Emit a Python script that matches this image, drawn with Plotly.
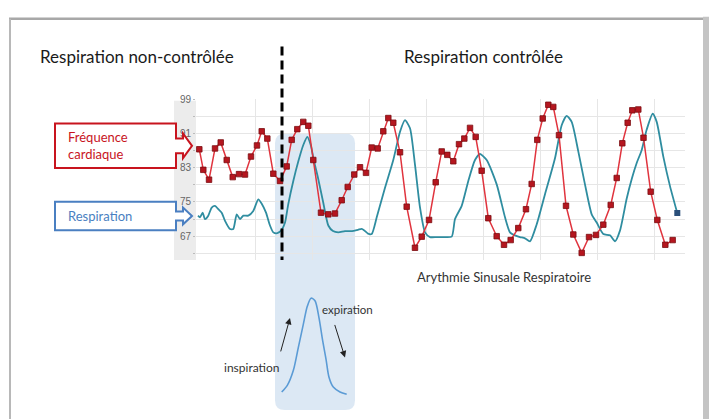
import plotly.graph_objects as go

W, H = 709, 419

# ---- data ----
# heart rate (red, markers)
hr_t = [0.23, 0.93, 1.93, 2.98, 3.98, 5.03, 6.08, 7.18, 8.23, 9.28, 10.33, 11.16, 12.14, 13.19,
        14.36, 15.53, 16.41, 17.39, 18.44, 19.32, 20.19, 21.54, 22.82, 23.99, 25.17, 26.22,
        27.37, 28.37, 29.42, 30.42, 31.47, 32.45, 33.33, 34.20, 35.38, 36.55, 38.0, 39.18,
        40.46, 41.63, 42.68, 43.66, 44.71, 45.71, 46.64, 47.64, 48.63, 49.68, 50.84, 52.31,
        53.59, 54.76, 56.09, 57.44, 58.44, 59.42, 60.37, 61.35, 62.22, 63.22, 64.45, 65.73,
        67.20, 68.48, 69.70, 70.98, 72.28, 73.33, 74.31, 75.25, 76.06, 77.11, 78.02, 79.28,
        80.44, 81.84, 83.13]
hr_v = [87.3, 82.5, 80.2, 87.5, 88.9, 84.8, 80.8, 81.5, 81.4, 85.6, 88.2, 91.5, 89.8, 81.6,
        79.9, 83.3, 89.5, 92.0, 93.7, 92.8, 84.8, 72.5, 72.1, 72.3, 75.4, 78.5,
        81.4, 83.1, 81.8, 87.7, 87.5, 91.5, 94.6, 93.5, 86.6, 73.9, 64.3, 66.9,
        70.8, 79.6, 86.8, 86.0, 84.5, 88.5, 89.8, 92.3, 90.2, 82.3, 71.2, 67.0,
        65.0, 66.1, 68.9, 73.3, 79.2, 89.5, 94.5, 97.7, 97.2, 90.6, 74.1, 67.4,
        63.1, 66.8, 67.3, 69.7, 74.3, 80.6, 88.7, 93.5, 96.4, 96.6, 90.0, 77.4,
        70.8, 65.0, 66.1]

# respiration (teal line)
resp_t = [0.0, 0.35, 0.82, 1.23, 1.80, 2.40, 2.98, 3.56, 4.15, 4.73, 5.60, 6.18, 6.78, 7.36,
          7.93, 8.81, 9.68, 10.56, 11.16, 11.91, 12.61, 13.19, 13.89, 14.66, 15.24, 15.81,
          16.69, 17.57, 18.44, 19.14, 19.74, 20.32, 21.02, 21.94, 22.82, 23.64, 24.57, 25.74,
          26.97, 28.02, 28.67, 29.07, 29.77, 30.42, 31.30, 32.75, 34.20, 35.38, 36.25, 37.13,
          38.0, 38.88, 39.76, 40.63, 41.80, 42.96, 44.43, 45.01, 46.18, 47.34, 48.51, 49.39,
          50.56, 52.31, 53.77, 54.64, 55.52, 56.39, 57.27, 58.14, 59.32, 60.77, 62.52, 63.69,
          64.57, 65.44, 66.60, 67.77, 68.95, 69.82, 70.98, 72.15, 73.03, 73.90, 75.08, 76.01,
          76.83, 77.70, 78.58, 79.63, 80.33, 81.49, 82.66, 83.94]
resp_v = [71.8, 71.4, 72.5, 71.0, 71.8, 73.7, 74.1, 73.3, 72.5, 70.6, 68.7, 68.7, 72.1, 71.0,
          71.8, 71.8, 72.9, 75.6, 74.6, 72.5, 69.5, 67.9, 67.7, 68.5, 70.2, 74.5,
          79.9, 84.5, 88.3, 90.2, 88.3, 84.5, 80.6, 74.8, 69.5, 68.2, 67.9, 68.2,
          68.2, 68.5, 68.7, 68.4, 67.6, 67.5, 71.4, 78.3, 84.8, 91.4, 94.1, 92.2,
          83.7, 73.7, 67.9, 66.8, 66.8, 66.8, 66.9, 71.0, 74.1, 79.9, 84.8, 86.2,
          84.8, 79.1, 71.4, 67.9, 67.2, 66.8, 66.5, 65.8, 69.8, 76.8, 85.2, 92.9,
          95.1, 93.7, 86.8, 79.1, 72.1, 70.2, 67.5, 67.2, 65.8, 68.3, 75.8, 80.6,
          84.1, 87.1, 91.9, 95.6, 93.7, 85.6, 78.7, 72.4]

# y tick labels
y_tickvals = [63, 67, 71, 75, 79, 83, 87, 91, 95, 99]
y_ticktext = ["", "67", "", "75", "", "83", "", "91", "", "99"]

# inset: one breath cycle sketch
breath_x = [6.7, 12.3, 18.3, 23.3, 28.3, 32.3, 36, 40, 44, 47.7, 51, 54, 58.3, 65, 71.7]
breath_y = [18.3, 25, 40, 63.3, 86.7, 105, 113.3, 110.7, 93.3, 70, 51.7, 33.3, 23.3, 18.3, 16]

# texts
title_left = "Respiration non-contrôlée"
title_right = "Respiration contrôlée"
label_hr = "Fréquence<br>cardiaque"
label_resp = "Respiration"
caption = "Arythmie Sinusale Respiratoire"
txt_insp = "inspiration"
txt_exp = "expiration"

FONT = "Lato"
RED = "#c8141e"
BLUE = "#4a7fc1"


def PX(x):
    return x / W


def PY(y):
    return 1 - y / H


fig = go.Figure()

fig.add_trace(go.Scatter(
    x=resp_t, y=resp_v, mode="lines", line=dict(color="#2f8da0", width=1.8, shape="spline", smoothing=0.6),
    hoverinfo="skip", showlegend=False))
fig.add_trace(go.Scatter(
    x=[resp_t[-1]], y=[resp_v[-1]], mode="markers",
    marker=dict(symbol="square", size=6, color="#2a4f7a"), showlegend=False, hoverinfo="skip"))
fig.add_trace(go.Scatter(
    x=hr_t, y=hr_v, mode="lines+markers", line=dict(color="#e0343e", width=1.5),
    marker=dict(symbol="square", size=5.5, color="#b5161f", line=dict(color="#7a0c10", width=0.8)),
    hoverinfo="skip", showlegend=False))
fig.add_trace(go.Scatter(
    x=breath_x, y=breath_y, mode="lines", line=dict(color="#5b9bd5", width=1.6, shape="spline", smoothing=0.8),
    xaxis="x2", yaxis="y2", hoverinfo="skip", showlegend=False))

x0 = (196 - 198) * 0.17513
x1 = (685 - 198) * 0.17513
y0 = 91 - (258 - 130) / 4.333
y1 = 91 - (95 - 130) / 4.333

shapes = []
# slide frame
shapes.append(dict(type="rect", xref="paper", yref="paper", x0=PX(703), x1=PX(709), y0=PY(419), y1=PY(12),
                   fillcolor="#c4c4c4", line=dict(width=0), layer="below"))
shapes.append(dict(type="line", xref="paper", yref="paper", x0=PX(9), x1=PX(703), y0=PY(14), y1=PY(14),
                   line=dict(color="#a8a8a8", width=2.5), layer="below"))
shapes.append(dict(type="line", xref="paper", yref="paper", x0=PX(10), x1=PX(10), y0=PY(14), y1=PY(419),
                   line=dict(color="#b8b8b8", width=2), layer="below"))
# grey tick strip
shapes.append(dict(type="rect", xref="paper", yref="paper", x0=PX(174), x1=PX(196), y0=PY(258), y1=PY(97),
                   fillcolor="#ececec", line=dict(width=0), layer="below"))

# rounded highlight rectangle
rx, ry = 10 / W, 10 / H
L, R, T, B = PX(275), PX(355), PY(130), PY(410)
path = (f"M {L+rx},{T} L {R-rx},{T} Q {R},{T} {R},{T-ry} L {R},{B+ry} Q {R},{B} {R-rx},{B} "
        f"L {L+rx},{B} Q {L},{B} {L},{B+ry} L {L},{T-ry} Q {L},{T} {L+rx},{T} Z")
shapes.append(dict(type="path", xref="paper", yref="paper", path=path, fillcolor="#dce8f4",
                   line=dict(width=0), layer="below"))


def callout(top, bot, stem_top, stem_bot, head_top, head_bot, tip_y, color):
    pts = [(55, top), (176, top), (176, stem_top), (183, stem_top), (183, head_top), (192, tip_y),
           (183, head_bot), (183, stem_bot), (176, stem_bot), (176, bot), (55, bot)]
    p = "M " + " L ".join(f"{PX(a)},{PY(b)}" for a, b in pts) + " Z"
    return dict(type="path", xref="paper", yref="paper", path=p, fillcolor="white",
                line=dict(color=color, width=2))


shapes.append(callout(120, 165, 135, 150, 130, 155, 142.5, RED))
shapes.append(callout(199, 228, 209, 218, 205, 222, 213.5, BLUE))

# dashed separator
shapes.append(dict(type="line", xref="paper", yref="paper", x0=PX(282), x1=PX(282), y0=PY(42), y1=PY(258),
                   line=dict(color="black", width=3, dash="9px,5px")))

annotations = [
    dict(text=title_left, x=PX(136.5), y=PY(52), font=dict(size=17, color="#1a1a1a", family=FONT)),
    dict(text=title_right, x=PX(483), y=PY(52), font=dict(size=17, color="#1a1a1a", family=FONT)),
    dict(text=label_hr, x=PX(66), y=PY(142.5), xanchor="left", align="left",
         font=dict(size=13, color=RED, family=FONT)),
    dict(text=label_resp, x=PX(66), y=PY(213.5), xanchor="left",
         font=dict(size=13, color=BLUE, family=FONT)),
    dict(text=caption, x=PX(503.5), y=PY(275), font=dict(size=13, color="#333333", family=FONT)),
    dict(text=txt_insp, x=PX(251), y=PY(367), font=dict(size=12, color="#333333", family=FONT)),
    dict(text=txt_exp, x=PX(347.5), y=PY(308), font=dict(size=11.5, color="#333333", family=FONT)),
    dict(text="", x=PX(290), y=PY(316.7), ax=-9.7, ay=35, showarrow=True, arrowhead=2, arrowsize=1.3,
         arrowwidth=1, arrowcolor="#222222"),
    dict(text="", x=PX(345), y=PY(356.7), ax=-10.7, ay=-34, showarrow=True, arrowhead=2, arrowsize=1.3,
         arrowwidth=1, arrowcolor="#222222"),
]
for a in annotations:
    a.setdefault("xref", "paper")
    a.setdefault("yref", "paper")
    a.setdefault("showarrow", False)
    a.setdefault("xanchor", "center")
    a.setdefault("yanchor", "middle")

fig.update_layout(
    width=W, height=H, margin=dict(l=0, r=0, t=0, b=0),
    paper_bgcolor="white", plot_bgcolor="rgba(0,0,0,0)",
    shapes=shapes, annotations=annotations, showlegend=False,
    xaxis=dict(domain=[PX(196), PX(685)], range=[x0, x1], tickvals=[10, 20, 30, 40, 50, 60, 70, 80],
               showticklabels=False, showgrid=True, gridcolor="#e6e6e6", gridwidth=1, zeroline=False,
               showline=False, ticks=""),
    yaxis=dict(domain=[PY(258), PY(95)], range=[y0, y1], tickvals=y_tickvals, ticktext=y_ticktext,
               showgrid=True, gridcolor="#e6e6e6", gridwidth=1, zeroline=False, showline=False,
               ticks="outside", ticklen=2, tickcolor="#bbbbbb",
               tickfont=dict(size=10, color="#666666", family="Liberation Sans")),
    xaxis2=dict(domain=[PX(275), PX(355)], range=[0, 80], visible=False, anchor="y2"),
    yaxis2=dict(domain=[PY(410), PY(280)], range=[0, 130], visible=False, anchor="x2"),
)

fig.write_html("out.html", config={"displayModeBar": False},
               post_script="document.body.style.margin='0px';document.body.style.overflow='hidden';")
